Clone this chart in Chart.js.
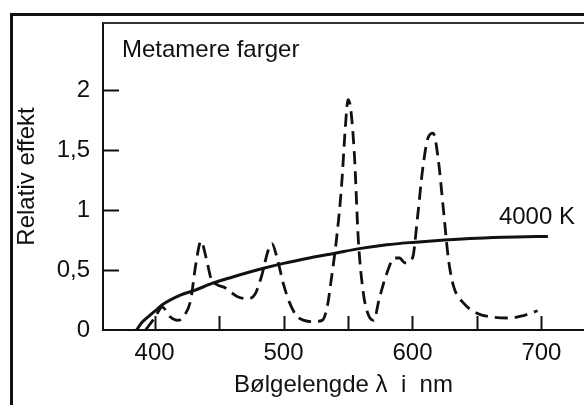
<!DOCTYPE html>
<html>
<head>
<meta charset="utf-8">
<script src="https://cdn.jsdelivr.net/npm/chart.js@4/dist/chart.umd.min.js"></script>
<style>
  html, body { margin: 0; padding: 0; background: #fff; }
  #wrap { width: 584px; height: 405px; }
</style>
</head>
<body>
<div id="wrap"><canvas id="spectrumChart"></canvas></div>
<script>
// 4000 K reference light (solid)
var refWavelengths = [386, 390, 395, 400, 406, 420, 431, 445, 460, 483, 500, 520, 540, 560, 580, 600, 625, 650, 680, 705];
var refValues = [0, 0.06, 0.11, 0.155, 0.21, 0.29, 0.33, 0.39, 0.44, 0.51, 0.555, 0.6, 0.64, 0.68, 0.71, 0.73, 0.75, 0.765, 0.775, 0.78];

// metameric lamp spectrum (dashed)
var lampWavelengths = [393, 400, 406, 412, 418, 423, 428, 432, 436, 440, 444, 448, 455, 464, 472, 478, 483, 488, 491, 495, 500, 505, 510, 516, 523, 530, 534, 537, 541, 545, 548, 550, 552, 555, 558, 562, 566, 570, 574, 580, 586, 590, 594, 600, 604, 608, 612, 616, 620, 624, 628, 632, 640, 650, 660, 676, 686, 697];
var lampValues = [0, 0.1, 0.19, 0.11, 0.08, 0.12, 0.25, 0.55, 0.74, 0.6, 0.42, 0.38, 0.35, 0.28, 0.26, 0.3, 0.45, 0.66, 0.72, 0.6, 0.38, 0.22, 0.12, 0.08, 0.07, 0.08, 0.2, 0.42, 0.75, 1.2, 1.7, 1.92, 1.85, 1.45, 0.75, 0.3, 0.12, 0.08, 0.25, 0.47, 0.6, 0.6, 0.56, 0.6, 0.95, 1.35, 1.6, 1.64, 1.42, 1.0, 0.58, 0.36, 0.22, 0.14, 0.11, 0.1, 0.12, 0.16];

var xTicks = [400, 450, 500, 550, 600, 650, 700];
var yTicks = [0, 0.5, 1, 1.5, 2];

var chartTitle = 'Metamere farger';
var refLabel = '4000 K';
var xTitle = 'Bølgelengde λ  i  nm';
var yTitle = 'Relativ effekt';

var ink = '#111';
var fontFamily = '"Liberation Sans", Arial, Helvetica, sans-serif';
var fontSize = 24;

function toPoints(xs, ys) {
    return xs.map((x, i) => ({ x: x, y: ys[i] }));
}

// frame, inner ticks and text labels
var decorPlugin = {
    id: 'decor',
    afterDraw(chart) {
        var ctx = chart.ctx;
        var area = chart.chartArea;
        var xs = chart.scales.x;
        var ys = chart.scales.y;
        ctx.save();
        ctx.strokeStyle = ink;

        // outer frame
        ctx.lineWidth = 3;
        ctx.beginPath();
        ctx.moveTo(11.5, chart.height + 2);
        ctx.lineTo(11.5, 14.5);
        ctx.lineTo(chart.width + 2, 14.5);
        ctx.stroke();

        // top edge of plot box
        ctx.lineWidth = 2;
        ctx.strokeStyle = '#333';
        ctx.beginPath();
        ctx.moveTo(area.left, area.top);
        ctx.lineTo(chart.width + 2, area.top);
        ctx.stroke();

        // ticks pointing inward
        ctx.strokeStyle = ink;
        ctx.lineWidth = 2;
        xTicks.forEach(v => {
            var px = Math.round(xs.getPixelForValue(v)) + 0.5;
            ctx.beginPath();
            ctx.moveTo(px, area.bottom);
            ctx.lineTo(px, area.bottom - 14);
            ctx.stroke();
        });
        yTicks.forEach(v => {
            if (v === 0) return;
            var py = Math.round(ys.getPixelForValue(v)) + 0.5;
            ctx.beginPath();
            ctx.moveTo(area.left, py);
            ctx.lineTo(area.left + 16, py);
            ctx.stroke();
        });

        // texts
        ctx.fillStyle = ink;
        ctx.font = fontSize + 'px ' + fontFamily;
        ctx.textBaseline = 'middle';
        ctx.textAlign = 'left';
        ctx.fillText(chartTitle, area.left + 19, area.top + 27);
        ctx.fillText(refLabel, xs.getPixelForValue(667), ys.getPixelForValue(0.94));
        ctx.restore();
    }
};

var ctx = document.getElementById('spectrumChart').getContext('2d');
var spectrumChart = new Chart(ctx, {
    type: 'line',
    data: {
        datasets: [
            {
                label: refLabel,
                data: toPoints(refWavelengths, refValues),
                borderColor: ink,
                borderWidth: 3,
                pointRadius: 0,
                cubicInterpolationMode: 'monotone',
                fill: false
            },
            {
                label: chartTitle,
                data: toPoints(lampWavelengths, lampValues),
                borderColor: ink,
                borderWidth: 2.8,
                borderDash: [13, 7],
                pointRadius: 0,
                cubicInterpolationMode: 'monotone',
                fill: false
            }
        ]
    },
    options: {
        responsive: true,
        maintainAspectRatio: false,
        animation: false,
        layout: {
            padding: { top: 23, right: 0, left: 0, bottom: 0 }
        },
        plugins: {
            legend: { display: false },
            tooltip: { enabled: false }
        },
        scales: {
            x: {
                type: 'linear',
                min: 360,
                max: 733,
                afterBuildTicks: function (scale) {
                    scale.ticks = xTicks.map(v => ({ value: v }));
                },
                afterFit: function (scale) {
                    scale.height = 75;
                    scale.paddingLeft = 0;
                    scale.paddingRight = 0;
                },
                grid: { display: false, drawTicks: false },
                border: { display: true, color: ink, width: 2 },
                ticks: {
                    autoSkip: false,
                    maxRotation: 0,
                    minRotation: 0,
                    padding: 9,
                    color: ink,
                    font: { family: fontFamily, size: fontSize },
                    callback: function (value) {
                        return value % 100 === 0 ? String(value) : '';
                    }
                },
                title: {
                    display: true,
                    text: xTitle,
                    color: ink,
                    font: { family: fontFamily, size: fontSize },
                    padding: { top: 0, bottom: 5 }
                }
            },
            y: {
                min: 0,
                max: 2.558,
                afterBuildTicks: function (scale) {
                    scale.ticks = yTicks.map(v => ({ value: v }));
                },
                afterFit: function (scale) {
                    scale.width = 103;
                    scale.paddingTop = 0;
                    scale.paddingBottom = 0;
                },
                grid: { display: false, drawTicks: false },
                border: { display: true, color: ink, width: 2 },
                ticks: {
                    padding: 13,
                    color: ink,
                    font: { family: fontFamily, size: fontSize },
                    callback: function (value) {
                        return String(value).replace('.', ',');
                    }
                },
                title: {
                    display: true,
                    text: yTitle,
                    color: ink,
                    font: { family: fontFamily, size: fontSize },
                    padding: { top: 13, bottom: 0 }
                }
            }
        }
    },
    plugins: [decorPlugin]
});
</script>
</body>
</html>
